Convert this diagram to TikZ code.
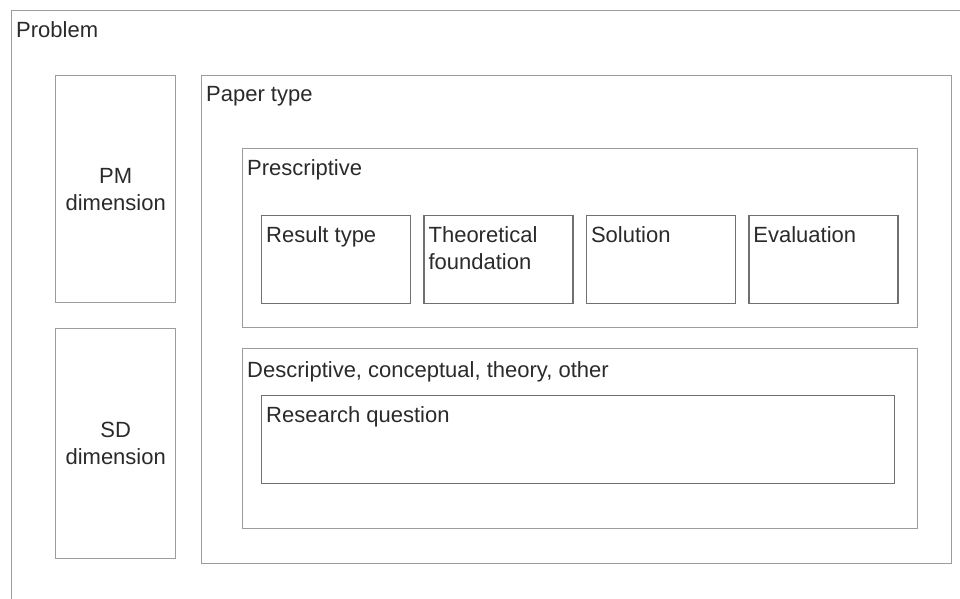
\documentclass[tikz,border=0pt]{standalone}
\usepackage{fontspec}
\setmainfont{Liberation Sans}
\usetikzlibrary{positioning}
\definecolor{frame}{HTML}{9C9C9C}
\definecolor{darkframe}{HTML}{707070}
\definecolor{ink}{HTML}{2A2A2A}
\tikzstyle{block} = [draw=frame, line width=1.4pt, rectangle,
    anchor=north west, inner sep=0pt]
\tikzstyle{field} = [block, draw=darkframe,
    minimum width=149pt, minimum height=88pt]
\tikzstyle{title} = [anchor=north west, inner xsep=5pt, inner ysep=11pt,
    align=left, text=ink]
\tikzstyle{dim} = [align=center, text=ink]

\begin{document}
\begin{tikzpicture}[x=1pt, y=-1pt, node distance=12pt,
    font=\fontsize{22}{27}\selectfont]
    \clip (0,0) rectangle (960,598);
    % We start by placing the frames
    \node [block, minimum width=1000pt, minimum height=700pt] (problem) at (11,10) {};
    \node [block, minimum width=120pt, minimum height=227pt] (pm) at (55,75) {};
    \node [block, minimum width=120pt, minimum height=230pt] (sd) at (55,328) {};
    \node [block, minimum width=750pt, minimum height=488pt] (paper) at (201,75) {};
    \node [block, minimum width=675pt, minimum height=179pt] (presc) at (242,148) {};
    \node [block, minimum width=675pt, minimum height=180pt] (descr) at (242,348) {};

    % The four fields of a prescriptive paper sit in one row
    \node [field] (result) at (261,215) {};
    \node [field, right=of result] (theory) {};
    \node [field, right=of theory] (solution) {};
    \node [field, right=of solution] (evaluation) {};
    \node [field, minimum width=633pt] (question) at (261,395) {};

    % Titles go in the upper left corner of each frame
    \node [title] (problem-t) at (problem.north west) {Problem};
    \node [title] (paper-t) at (paper.north west) {Paper type};
    \node [title] (presc-t) at (presc.north west) {Prescriptive};
    \node [title, inner ysep=13pt] (descr-t) at (descr.north west)
        {Descriptive, conceptual, theory, other};
    \node [title] (result-t) at (result.north west) {Result type};
    \node [title] (theory-t) at (theory.north west) {Theoretical\\foundation};
    \node [title] (solution-t) at (solution.north west) {Solution};
    \node [title] (evaluation-t) at (evaluation.north west) {Evaluation};
    \node [title] (question-t) at (question.north west) {Research question};

    % The two dimensions are centred in their boxes
    \node [dim] (pm-t) at (pm.center) {PM\\dimension};
    \node [dim] (sd-t) at (sd.center) {SD\\dimension};
\end{tikzpicture}
\end{document}
